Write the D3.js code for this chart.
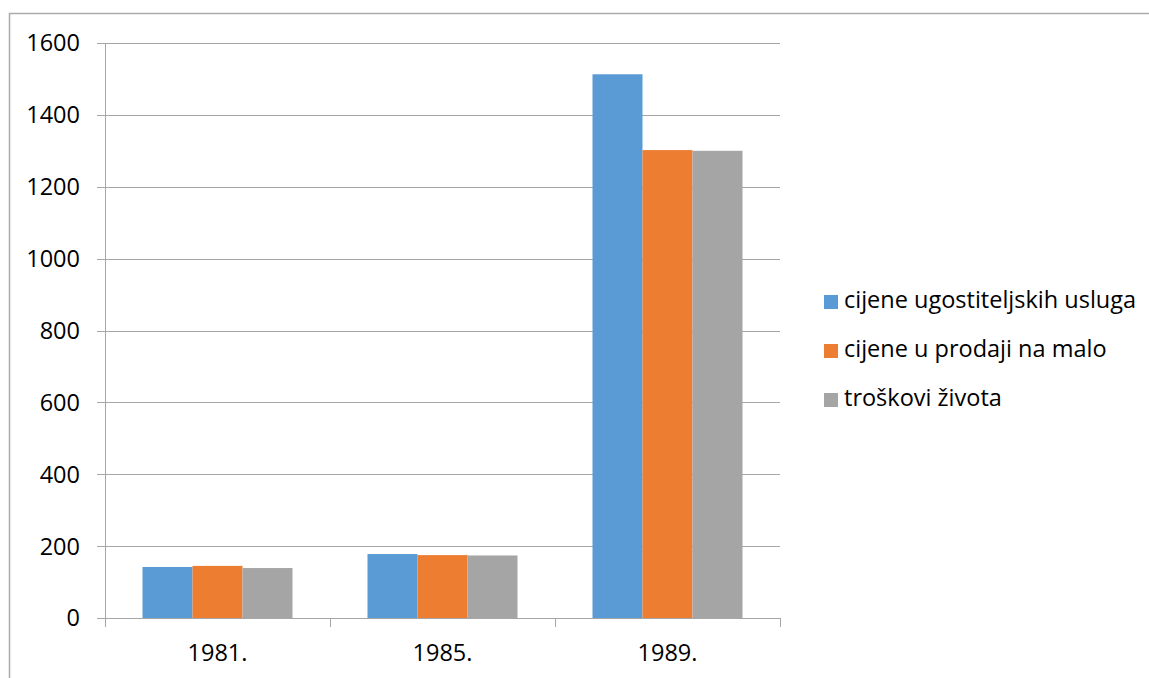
<!DOCTYPE html>
<html><head><meta charset="utf-8">
<script src="https://cdn.jsdelivr.net/npm/d3@7"></script>
<style>body{margin:0;background:#fff;}svg{display:block;font-family:"Open Sans","Noto Sans",sans-serif;}</style>
</head><body>
<svg id="c" width="1149" height="678"></svg>
<script>
const categories = ["1981.", "1985.", "1989."];
const seriesNames = ["cijene ugostiteljskih usluga", "cijene u prodaji na malo", "troškovi života"];
const ugostiteljske = [142, 178, 1513];
const prodajaNaMalo = [145, 175, 1302];
const troskoviZivota = [139, 174, 1300];
const yTicks = [0, 200, 400, 600, 800, 1000, 1200, 1400, 1600];
const colors = ["#5B9BD5", "#ED7D31", "#A5A5A5"];

const seriesValues = [ugostiteljske, prodajaNaMalo, troskoviZivota];
const svg = d3.select("#c");
const FS = 23.5;

// chart border
svg.append("rect").attr("x", 9.5).attr("y", 13.5).attr("width", 1160).attr("height", 700)
  .attr("fill", "none").attr("stroke", "#ababab").attr("stroke-width", 1.5);

const x0 = d3.scaleBand().domain(categories).range([105, 780]).paddingInner(0).paddingOuter(0);
const x1 = d3.scaleBand().domain(d3.range(3)).range([0, x0.bandwidth()]).paddingInner(0).paddingOuter(0.75);
const y = d3.scaleLinear().domain([0, 1600]).range([618, 43]);

// gridlines
svg.append("g").selectAll("line").data(yTicks).join("line")
  .attr("x1", 97).attr("x2", 780)
  .attr("y1", d => Math.round(y(d)) + 0.5).attr("y2", d => Math.round(y(d)) + 0.5)
  .attr("stroke", "#a6a6a6").attr("stroke-width", 1);

// y axis line
svg.append("line").attr("x1", 105.5).attr("x2", 105.5).attr("y1", 43).attr("y2", 618)
  .attr("stroke", "#a6a6a6");

// y labels
svg.append("g").selectAll("text").data(yTicks).join("text")
  .attr("x", 80).attr("y", d => y(d)).attr("dy", "0.36em")
  .attr("text-anchor", "end").attr("font-size", FS).attr("fill", "#000")
  .text(d => d);

// bars
const groups = svg.append("g").selectAll("g").data(categories).join("g")
  .attr("transform", d => `translate(${x0(d)},0)`);
groups.selectAll("rect").data((d, i) => seriesValues.map((s, k) => ({k, v: s[i]}))).join("rect")
  .attr("x", d => x1(d.k)).attr("width", x1.bandwidth())
  .attr("y", d => y(d.v)).attr("height", d => y(0) - y(d.v))
  .attr("fill", d => colors[d.k]);

// x axis baseline and ticks
svg.append("line").attr("x1", 105).attr("x2", 780).attr("y1", 618.5).attr("y2", 618.5).attr("stroke", "#a6a6a6");
const xTickPos = categories.map(c => x0(c)).concat([780]);
svg.append("g").selectAll("line").data(xTickPos).join("line")
  .attr("x1", d => Math.round(d) + 0.5).attr("x2", d => Math.round(d) + 0.5)
  .attr("y1", 618).attr("y2", 627).attr("stroke", "#a6a6a6");

// x labels
svg.append("g").selectAll("text").data(categories).join("text")
  .attr("x", d => x0(d) + x0.bandwidth() / 2).attr("y", 661)
  .attr("text-anchor", "middle").attr("font-size", FS).attr("fill", "#000")
  .text(d => d);

// legend
const leg = svg.append("g").selectAll("g").data(seriesNames).join("g")
  .attr("transform", (d, i) => `translate(824,${295 + i * 49})`);
leg.append("rect").attr("width", 14).attr("height", 14).attr("fill", (d, i) => colors[i]);
leg.append("text").attr("x", 20).attr("y", 13).attr("font-size", FS).attr("fill", "#000").text(d => d);
</script>
</body></html>
